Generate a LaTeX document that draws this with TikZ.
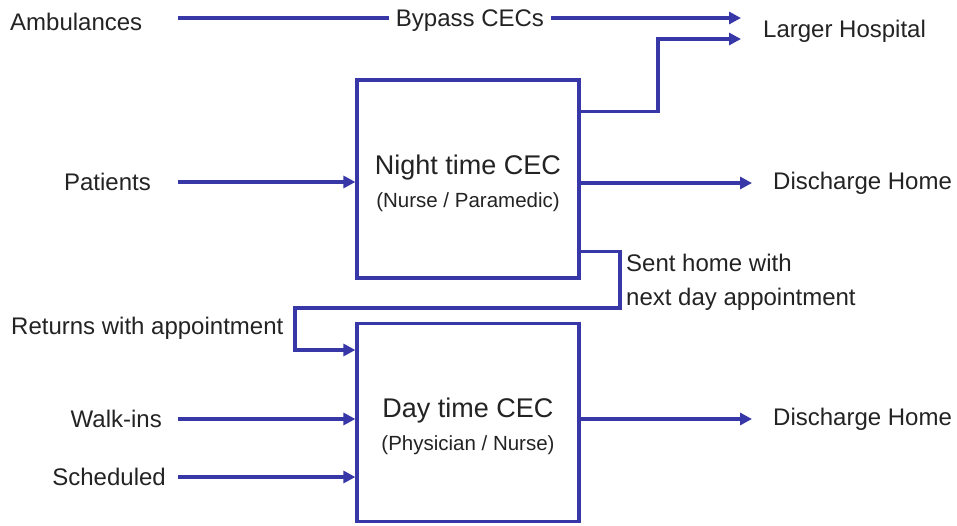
\documentclass[tikz,border=0pt]{standalone}
\usepackage{fontspec}
\setmainfont{Liberation Sans}
\usetikzlibrary{arrows.meta}
\usetikzlibrary{positioning}
\definecolor{cecblue}{RGB}{55,55,168}
\definecolor{cectext}{RGB}{35,35,35}
\tikzset {
  % plain blue line, no tip
  flow path/.style = {
    draw = cecblue,
    line width = 3.2pt
  },
  % blue line with a small filled tip
  flow/.style = {
    flow path,
    -{Triangle[length=12pt,width=12pt]}
  }
}
\tikzset {
  % care centre box
  cec/.style = {
    draw = cecblue,
    line width = 3.2pt,
    fill = white,
    minimum width = 222pt,
    minimum height = 198pt,
    align = center,
    text = cectext,
    font = \fontsize{27}{34}\selectfont
  },
  % free text
  lbl/.style = {
    text = cectext,
    inner sep = 0pt,
    font = \fontsize{24}{34}\selectfont
  }
}

\begin{document}
\begin{tikzpicture}[x=1pt, y=-1pt]
    \useasboundingbox (0,0) rectangle (957,525);

    \node[cec] (night) at (468,179) {\rule{0pt}{28pt}Night time CEC\\[-1pt]{\fontsize{20.5}{24}\selectfont (Nurse / Paramedic)}};
    \node[cec] (day) [below=42pt of night] {\rule{0pt}{28pt}Day time CEC\\[-1pt]{\fontsize{20.5}{24}\selectfont (Physician / Nurse)}};

    \coordinate (in-x) at (178,0);
    \coordinate (out-x) at (752,0);
    \coordinate (hosp1) at (741,18);
    \coordinate (hosp2) at (741,39);
    \coordinate (loop-r) at (620,308);
    \coordinate (loop-l) at (295,350);

    \node[lbl, anchor=west] (amb) at (10,22) {Ambulances};
    \node[lbl, inner xsep=7pt] (bypass) at (470,21) {Bypass CECs};
    \node[lbl, anchor=west] (larger) at (763,31) {Larger Hospital};
    \node[lbl, anchor=east] (patients) at (151,182) {Patients};
    \node[lbl, anchor=west] (dis1) at (773,183) {Discharge Home};
    \node[lbl, anchor=west, align=left] (sent) at (626,282) {Sent home with\\next day appointment};
    \node[lbl, anchor=west] (returns) at (11,328) {Returns with appointment};
    \node[lbl, anchor=east] (walkins) at (162,419) {Walk-ins};
    \node[lbl, anchor=east] (sched) at (166,477) {Scheduled};
    \node[lbl, anchor=west] (dis2) at (773,419) {Discharge Home};

    % bypass
    \draw[flow path] (in-x |- hosp1) -- (bypass.west |- hosp1);
    \draw[flow] (bypass.east |- hosp1) -- (hosp1);
    \draw[flow] ([yshift=-33pt]night.north east) -| ([xshift=-83pt]hosp2) -- (hosp2);

    % night time
    \draw[flow] (in-x |- patients) -- (patients -| night.west);
    \draw[flow] (dis1 -| night.east) -- (dis1 -| out-x);
    \draw[flow] ([yshift=28pt]night.south east) -| (loop-r) -| (loop-l) -- (loop-l -| day.west);

    % day time
    \draw[flow] (in-x |- walkins) -- (walkins -| day.west);
    \draw[flow] (in-x |- sched) -- (sched -| day.west);
    \draw[flow] (dis2 -| day.east) -- (dis2 -| out-x);
\end{tikzpicture}
\end{document}
